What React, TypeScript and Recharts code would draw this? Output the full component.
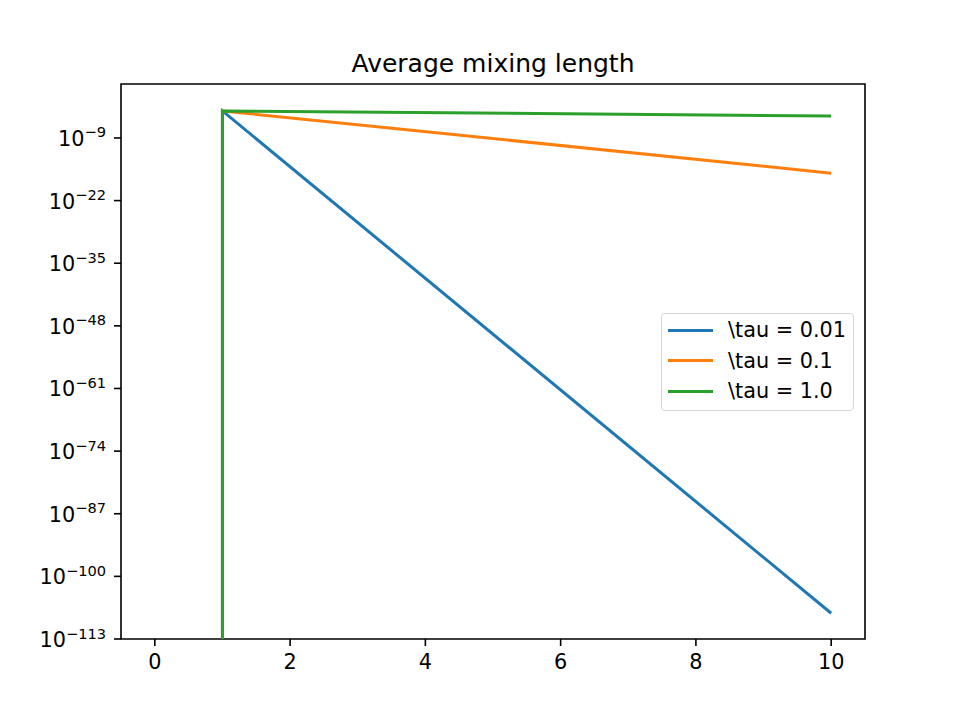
import { LineChart, Line, XAxis, YAxis, Legend, ReferenceArea } from 'recharts';

const FONT = '"DejaVu Sans", sans-serif';

// time steps; the curves are zero until t = 1, then decay
const steps = [0, 1, 1, 10];
// zeros can't sit on a log axis, so they are pushed far below the floor and clipped
const ZERO = 1e-300;
const tau001 = [ZERO, ZERO, 4.1e-4, 2.2e-108];
const tau01 = [ZERO, ZERO, 4.1e-4, 4.9e-17];
const tau1 = [ZERO, ZERO, 4.1e-4, 3.7e-5];

const series = [
    { key: 'tau001', name: '\\tau = 0.01', color: '#1f77b4', values: tau001 },
    { key: 'tau01', name: '\\tau = 0.1', color: '#ff7f0e', values: tau01 },
    { key: 'tau1', name: '\\tau = 1.0', color: '#2ca02c', values: tau1 },
];

const xTicks = [0, 2, 4, 6, 8, 10];
const yTickExponents = [-9, -22, -35, -48, -61, -74, -87, -100, -113];
const yTicks = yTickExponents.map((e) => Number(`1e${e}`));

const X_DOMAIN: [number, number] = [-0.5, 10.5];
const Y_DOMAIN: [number, number] = [1e-113, Math.pow(10, 2.2)];

const data = steps.map((t, i) => {
    const row: Record<string, number> = { t };
    series.forEach((s) => {
        row[s.key] = s.values[i];
    });
    return row;
});

const XTick = ({ x, y, payload }: any) => (
    <text x={x} y={y + 15} textAnchor="middle" fontFamily={FONT} fontSize={20.8} fill="#000">
        {payload.value}
    </text>
);

const YTick = ({ x, y, payload }: any) => {
    const exp = Math.round(Math.log10(payload.value));
    return (
        <text x={x} y={y + 8} textAnchor="end" fontFamily={FONT} fontSize={20.8} fill="#000">
            10
            <tspan dy={-8.5} fontSize={14.6}>{`\u2212${Math.abs(exp)}`}</tspan>
        </text>
    );
};

const LegendBox = ({ payload }: any) => (
    <div
        style={{
            boxSizing: 'border-box',
            width: 193,
            height: 98,
            paddingTop: 1,
            border: '1.5px solid #d6d6d6',
            borderRadius: 4,
            background: 'rgba(255,255,255,0.8)',
            fontFamily: FONT,
            fontSize: 20.8,
            color: '#000',
        }}
    >
        {(payload || []).map((entry: any) => (
            <div key={entry.value} style={{ display: 'flex', alignItems: 'center', height: 30.5 }}>
                <div style={{ marginLeft: 6, width: 45, height: 3, background: entry.color }} />
                <span style={{ marginLeft: 15, lineHeight: '30.5px', whiteSpace: 'nowrap' }}>{entry.value}</span>
            </div>
        ))}
    </div>
);

export default function App() {
    return (
        <div style={{ position: 'absolute', left: 0, top: 0, width: 961, height: 719, background: '#fff' }}>
            <svg width={961} height={100} style={{ position: 'absolute', left: 0, top: 0, pointerEvents: 'none' }}>
                <text x={493} y={72} textAnchor="middle" fontFamily={FONT} fontSize={25} fill="#000">
                    Average mixing length
                </text>
            </svg>
            <LineChart
                width={961}
                height={719}
                data={data}
                margin={{ top: 84, right: 96, left: 21, bottom: 50 }}
            >
                <XAxis
                    dataKey="t"
                    type="number"
                    domain={X_DOMAIN}
                    ticks={xTicks}
                    interval={0}
                    allowDataOverflow
                    height={30}
                    axisLine={false}
                    tickLine={{ stroke: '#000', strokeWidth: 1.6 }}
                    tickSize={7}
                    tickMargin={8}
                    tick={<XTick />}
                />
                <YAxis
                    type="number"
                    scale="log"
                    domain={Y_DOMAIN}
                    ticks={yTicks}
                    interval={0}
                    allowDataOverflow
                    width={100}
                    axisLine={false}
                    tickLine={{ stroke: '#000', strokeWidth: 1.6 }}
                    tickSize={7}
                    tickMargin={8}
                    tick={<YTick />}
                />
                <ReferenceArea
                    x1={X_DOMAIN[0]}
                    x2={X_DOMAIN[1]}
                    y1={Y_DOMAIN[0]}
                    y2={Y_DOMAIN[1]}
                    fill="none"
                    stroke="#000"
                    strokeWidth={1.6}
                    fillOpacity={0}
                />
                {series.map((s) => (
                    <Line
                        key={s.key}
                        dataKey={s.key}
                        name={s.name}
                        type="linear"
                        stroke={s.color}
                        strokeWidth={3}
                        dot={false}
                        activeDot={false}
                        isAnimationActive={false}
                    />
                ))}
                <Legend
                    layout="vertical"
                    align="center"
                    verticalAlign="middle"
                    content={<LegendBox />}
                    wrapperStyle={{ position: 'absolute', left: 661, top: 313, width: 193, height: 98 }}
                />
            </LineChart>
        </div>
    );
}
